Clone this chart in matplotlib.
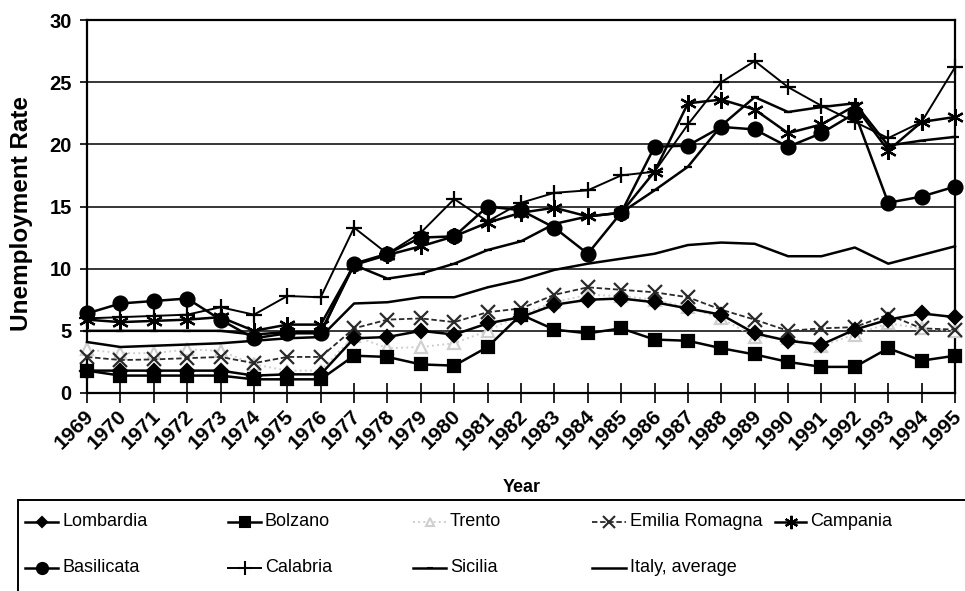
import matplotlib
matplotlib.use("Agg")
import matplotlib.pyplot as plt
from matplotlib.lines import Line2D
from matplotlib.patches import Rectangle
from matplotlib.transforms import ScaledTranslation
from matplotlib import font_manager

# ---------------- data ----------------
years = list(range(1969, 1996))

lombardia = [1.8, 1.8, 1.8, 1.8, 1.8, 1.4, 1.5, 1.5,
             4.4, 4.5, 5.0, 4.7, 5.6, 6.1, 7.1, 7.5, 7.6, 7.3, 6.8, 6.3,
             4.8, 4.2, 3.9, 5.1, 5.9, 6.4, 6.1]
bolzano = [1.8, 1.4, 1.4, 1.4, 1.4, 1.1, 1.1, 1.1,
           3.0, 2.9, 2.3, 2.2, 3.7, 6.3, 5.1, 4.8, 5.2, 4.3, 4.2, 3.6,
           3.1, 2.5, 2.1, 2.1, 3.6, 2.6, 3.0]
trento = [3.5, 3.2, 3.2, 3.5, 3.4, 2.3, 1.8, 1.8,
          4.6, 3.6, 3.7, 4.0, 5.0, 6.3, 7.3, 7.9, 7.8, 7.5, 6.9, 6.0,
          4.5, 4.4, 3.8, 4.7, 5.6, 5.2, 5.0]
emilia = [2.9, 2.65, 2.7, 2.8, 2.9, 2.4, 2.9, 2.9,
          5.2, 5.9, 6.0, 5.7, 6.5, 6.8, 7.9, 8.5, 8.3, 8.1, 7.7, 6.7,
          5.9, 5.0, 5.2, 5.3, 6.3, 5.2, 5.1]
campania = [5.9, 5.7, 5.8, 5.9, 6.1, 5.0, 5.5, 5.5,
            10.3, 11.1, 11.8, 12.6, 13.7, 14.5, 14.9, 14.2, 14.5, 17.8, 23.3, 23.6,
            22.8, 20.9, 21.6, 23.1, 19.5, 21.8, 22.2]
basilicata = [6.4, 7.2, 7.4, 7.6, 5.9, 4.4, 4.8, 4.8,
              10.4, 11.2, 12.5, 12.6, 15.0, 14.7, 13.3, 11.2, 14.5, 19.8, 19.9, 21.4,
              21.2, 19.8, 20.9, 22.5, 15.3, 15.8, 16.6]
calabria = [6.0, 6.1, 6.2, 6.3, 6.9, 6.3, 7.8, 7.7,
            13.3, 11.2, 12.9, 15.6, 13.8, 15.3, 16.1, 16.3, 17.5, 17.8, 21.6, 25.0,
            26.7, 24.6, 23.1, 21.8, 20.5, 21.8, 26.2]
sicilia = [5.0, 5.0, 5.0, 5.0, 5.0, 4.7, 4.9, 4.9,
           10.3, 9.2, 9.6, 10.4, 11.5, 12.2, 13.6, 14.2, 14.5, 16.3, 18.2, 21.5,
           23.8, 22.6, 23.0, 23.3, 19.9, 20.3, 20.6]
italy = [4.1, 3.7, 3.8, 3.9, 4.0, 4.2, 4.4, 4.5,
         7.2, 7.3, 7.7, 7.7, 8.5, 9.1, 9.9, 10.4, 10.8, 11.2, 11.9, 12.1,
         12.0, 11.0, 11.0, 11.7, 10.4, 11.1, 11.8]

y_ticks = [0, 5, 10, 15, 20, 25, 30]
x_label = "Year"
y_label = "Unemployment Rate"

# ---------------- fonts ----------------
names = {f.name for f in font_manager.fontManager.ttflist}
main_font = "Liberation Sans" if "Liberation Sans" in names else "DejaVu Sans"
narrow_font = "Liberation Sans Narrow" if "Liberation Sans Narrow" in names else main_font
plt.rcParams["font.family"] = [main_font, "DejaVu Sans"]

W, H = 965, 591
fig = plt.figure(figsize=(W / 100, H / 100), dpi=100)
fig.patch.set_facecolor("white")

def fx(px):
    return px / W

def fy(py):
    return 1 - py / H

ax = fig.add_axes([fx(87), fy(393), fx(955) - fx(87), fy(20) - fy(393)])
ax.set_xlim(years[0], years[-1])
ax.set_ylim(0, 30)

# gridlines
for v in y_ticks[1:-1]:
    ax.axhline(v, color="black", lw=1.1, zorder=1)

styles = {
    "Lombardia": dict(data=lombardia, color="black", lw=1.8, marker="D", ms=7, mfc="black", ls="-"),
    "Bolzano": dict(data=bolzano, color="black", lw=1.8, marker="s", ms=8.5, mfc="black", ls="-"),
    "Trento": dict(data=trento, color="#cfcfcf", lw=1.4, marker="^", ms=8, mfc="white", ls=":"),
    "Emilia Romagna": dict(data=emilia, color="#2a2a2a", lw=1.3, marker="x", ms=10, mfc="none", ls=(0, (3, 1.5))),
    "Campania": dict(data=campania, color="black", lw=1.8, marker=(6, 2, 0), ms=12, mfc="black", ls="-"),
    "Basilicata": dict(data=basilicata, color="black", lw=1.8, marker="o", ms=10, mfc="black", ls="-"),
    "Calabria": dict(data=calabria, color="black", lw=1.4, marker="+", ms=12, mfc="black", ls="-"),
    "Sicilia": dict(data=sicilia, color="black", lw=1.8, marker="_", ms=6, mfc="black", ls="-"),
    "Italy, average": dict(data=italy, color="black", lw=1.8, marker=None, ms=0, mfc="black", ls="-"),
}

draw_order = ["Trento", "Emilia Romagna", "Bolzano", "Lombardia", "Italy, average",
              "Sicilia", "Calabria", "Campania", "Basilicata"]
for name in draw_order:
    s = styles[name]
    ax.plot(years, s["data"], color=s["color"], lw=s["lw"], ls=s["ls"], marker=s["marker"],
            ms=s["ms"], mfc=s["mfc"], mec=s["color"], mew=1.6, zorder=3, clip_on=False)

for sp in ax.spines.values():
    sp.set_color("black")
    sp.set_linewidth(1.6)

ax.set_yticks(y_ticks)
ax.set_yticklabels([str(v) for v in y_ticks], fontsize=14.5, fontweight="bold")
ax.tick_params(axis="y", direction="out", length=5, width=1.2, pad=6)
ax.set_xticks(years)
ax.set_xticklabels([str(y) for y in years], fontsize=15, fontweight="bold",
                   rotation=45, ha="right", va="top", rotation_mode="anchor")
ax.tick_params(axis="x", direction="inout", length=14, width=1.2, pad=3)
shift = ScaledTranslation(-3 / 100, 0, fig.dpi_scale_trans)
for lab in ax.get_xticklabels():
    lab.set_transform(lab.get_transform() + shift)

fig.text(fx(22), fy(213), y_label, rotation=90, ha="center", va="center",
         fontsize=17.5, fontweight="bold")
fig.text(fx(522), fy(488), x_label, ha="center", va="center",
         fontsize=13, fontweight="bold")

# ---------------- legend (boxed, cut at bottom edge) ----------------
frame = Rectangle((fx(18), fy(640)), fx(1000) - fx(18), fy(500) - fy(640),
                  transform=fig.transFigure, fill=False, lw=1.4, ec="black", clip_on=False)
fig.add_artist(frame)

legend_layout = [
    ("Lombardia", 25, 58, 62, 522),
    ("Bolzano", 228, 261, 265, 522),
    ("Trento", 413, 446, 450, 522),
    ("Emilia Romagna", 592, 626, 630, 522),
    ("Campania", 775, 806, 810, 522),
    ("Basilicata", 25, 58, 62, 568),
    ("Calabria", 228, 261, 265, 568),
    ("Sicilia", 413, 446, 450, 568),
    ("Italy, average", 592, 626, 630, 568),
]
for name, x0, x1, xt, yy in legend_layout:
    s = styles[name]
    fig.add_artist(Line2D([fx(x0), fx(x1)], [fy(yy), fy(yy)], transform=fig.transFigure,
                          color=s["color"], lw=s["lw"], ls=s["ls"]))
    if s["marker"] is not None:
        fig.add_artist(Line2D([fx((x0 + x1) / 2)], [fy(yy)], transform=fig.transFigure,
                              marker=s["marker"], ms=s["ms"] * 0.8, mfc=s["mfc"],
                              mec=s["color"], mew=1.5, ls="none"))
    fig.text(fx(xt), fy(yy), name, ha="left", va="center", fontsize=13,
             family=[narrow_font, "DejaVu Sans"])

fig.savefig("out.png", dpi=100, facecolor="white")
